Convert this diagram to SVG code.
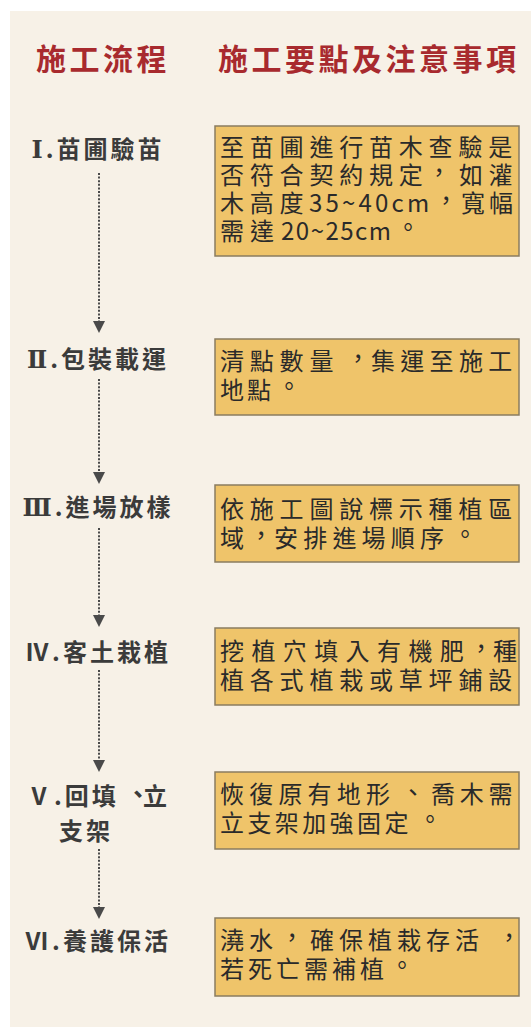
<svg xmlns="http://www.w3.org/2000/svg" width="531" height="1027" viewBox="0 0 531 1027" xml:lang="zh-Hant-TW" lang="zh-Hant-TW">
<defs>
<style>
.title{font-family:"Noto Sans CJK TC","Noto Sans CJK SC",sans-serif;font-size:30px;font-weight:700;fill:#a82a2e;letter-spacing:3.5px}
.step{font-family:"Noto Sans CJK TC","Noto Sans CJK SC",sans-serif;font-size:24px;font-weight:700;fill:#3b3b3b;letter-spacing:3px;text-anchor:middle}
.rn{font-family:"DejaVu Serif","Noto Sans CJK TC",serif;font-weight:700}
.box{fill:#efc46a;stroke:#8a7c60;stroke-width:1.5}
.bt{font-family:"Noto Sans CJK TC","Noto Sans CJK SC",sans-serif;font-size:24px;fill:#2a2a2a;letter-spacing:5.8px}
.conn{stroke:#4a4a4a;stroke-width:2;stroke-dasharray:2 1.6;fill:none}
.ah{fill:#4a4a4a}
</style>
</defs>
<rect x="0" y="0" width="531" height="1027" fill="#ffffff"/>
<rect x="10" y="11" width="521" height="1016" fill="#f7f1e7"/>

<g id="header">
<text class="title" x="36" y="70">施工流程</text>
<text class="title" x="218" y="70">施工要點及注意事項</text>
</g>

<g id="connectors">
<line class="conn" x1="99" y1="173" x2="99" y2="321"/>
<path class="ah" d="M93,321 L105,321 L99,333 Z"/>
<line class="conn" x1="99" y1="379" x2="99" y2="472"/>
<path class="ah" d="M93,472 L105,472 L99,484 Z"/>
<line class="conn" x1="99" y1="528" x2="99" y2="615"/>
<path class="ah" d="M93,615 L105,615 L99,627 Z"/>
<line class="conn" x1="99" y1="670" x2="99" y2="760"/>
<path class="ah" d="M93,760 L105,760 L99,772 Z"/>
<line class="conn" x1="99" y1="849" x2="99" y2="907"/>
<path class="ah" d="M93,907 L105,907 L99,919 Z"/>
</g>

<g id="step1">
<text class="step" x="98" y="158"><tspan class="rn">Ⅰ</tspan>.苗圃驗苗</text>
<rect class="box" x="215" y="126" width="304" height="130"/>
<text class="bt" x="220" y="156">至苗圃進行苗木查驗是</text>
<text class="bt" y="184"><tspan x="220">否符合契約規定</tspan><tspan x="427" y="181">，</tspan><tspan x="459" y="184">如灌</tspan></text>
<text class="bt" y="212"><tspan x="220">木高度</tspan><tspan x="309" style="letter-spacing:3.2px">35~40cm</tspan><tspan x="434" y="209">，</tspan><tspan x="461" y="212" style="letter-spacing:4px">寬幅</tspan></text>
<text class="bt" y="240"><tspan x="220" style="letter-spacing:6px">需達</tspan><tspan x="281" style="letter-spacing:1.5px">20~25cm</tspan><tspan x="396" y="236">。</tspan></text>
</g>

<g id="step2">
<text class="step" x="98" y="368"><tspan class="rn">Ⅱ</tspan>.包裝載運</text>
<rect class="box" x="215" y="339" width="304" height="76"/>
<text class="bt" y="370"><tspan x="220">清點數量</tspan><tspan x="346" y="367">，</tspan><tspan x="371" y="370" style="letter-spacing:5.3px">集運至施工</tspan></text>
<text class="bt" y="399"><tspan x="220" style="letter-spacing:3px">地點</tspan><tspan x="277" y="395">。</tspan></text>
</g>

<g id="step3">
<text class="step" x="98" y="516"><tspan class="rn">Ⅲ</tspan>.進場放樣</text>
<rect class="box" x="215" y="485" width="304" height="77"/>
<text class="bt" x="220" y="518">依施工圖說標示種植區</text>
<text class="bt" y="547"><tspan x="220">域</tspan><tspan x="249" y="544">，</tspan><tspan x="274" y="547" style="letter-spacing:5.2px">安排進場順序</tspan><tspan x="453" y="543">。</tspan></text>
</g>

<g id="step4">
<text class="step" x="98" y="661">Ⅳ.客土栽植</text>
<rect class="box" x="215" y="628" width="304" height="77"/>
<text class="bt" y="660"><tspan x="220" style="letter-spacing:7.4px">挖植穴填入有機肥</tspan><tspan x="469" y="657">，</tspan><tspan x="493" y="660">種</tspan></text>
<text class="bt" x="220" y="689">植各式植栽或草坪鋪設</text>
</g>

<g id="step5">
<text class="step" y="805" style="text-anchor:start"><tspan x="27">Ⅴ.回填</tspan><tspan x="126" y="803">、</tspan><tspan x="143" y="805">立</tspan></text>
<text class="step" x="86" y="840">支架</text>
<rect class="box" x="215" y="772" width="304" height="77"/>
<text class="bt" y="803"><tspan x="220" style="letter-spacing:5.2px">恢復原有地形</tspan><tspan x="401" y="801">、</tspan><tspan x="431" y="803" style="letter-spacing:4.8px">喬木需</tspan></text>
<text class="bt" y="832"><tspan x="220" style="letter-spacing:3.4px">立支架加強固定</tspan><tspan x="418" y="828">。</tspan></text>
</g>

<g id="step6">
<text class="step" x="98" y="950">Ⅵ.養護保活</text>
<rect class="box" x="215" y="918" width="304" height="78"/>
<text class="bt" y="949"><tspan x="220" style="letter-spacing:5px">澆水</tspan><tspan x="280" y="946">，</tspan><tspan x="310" y="949" style="letter-spacing:5px">確保植栽存活</tspan><tspan x="497" y="946">，</tspan></text>
<text class="bt" y="978"><tspan x="220" style="letter-spacing:4px">若死亡需補植</tspan><tspan x="390" y="974">。</tspan></text>
</g>
</svg>
